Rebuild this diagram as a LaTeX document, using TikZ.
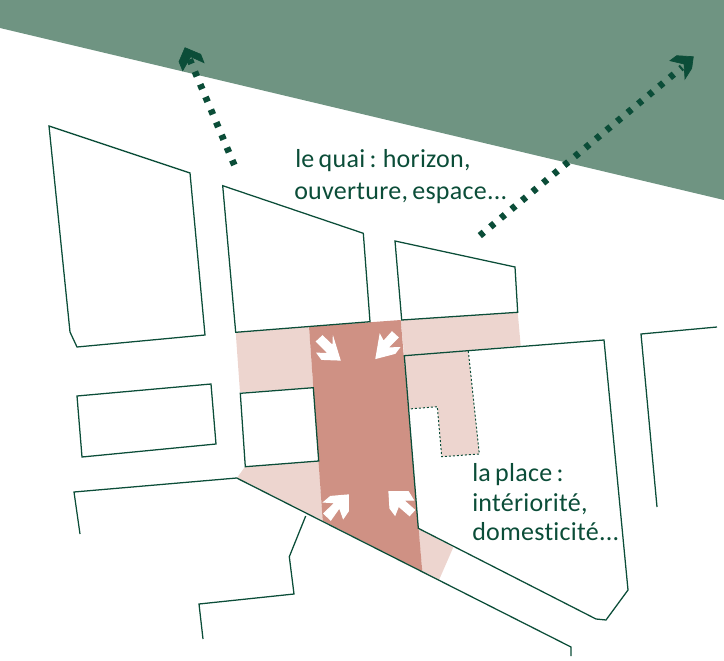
\documentclass[tikz,border=0pt]{standalone}
\usepackage{fontspec}
\setmainfont[LetterSpace=1,WordSpace=0.7,Ligatures=NoCommon]{Carlito}
\usetikzlibrary{positioning}
\definecolor{quaigreen}{HTML}{6F9482}
\definecolor{darkgreen}{HTML}{0B4D38}
\definecolor{placered}{HTML}{CF9184}
\definecolor{placepink}{HTML}{EDD5CF}
\tikzset{
  wall/.style={draw=darkgreen,line width=0.95pt,line join=miter},
  limit/.style={draw=darkgreen,line width=0.75pt,dash pattern=on 1.5pt off 1.5pt},
  view/.style={draw=darkgreen,line width=5pt,dash pattern=on 3.9pt off 6.4pt},
  head/.style={fill=darkgreen,draw=darkgreen,line width=0.5pt},
  inward/.style={fill=white,draw=white,line width=0.9pt},
  label/.style={font=\fontsize{19.5}{22}\selectfont,text=darkgreen,anchor=base west,inner sep=0pt},
}
\begin{document}
\begin{tikzpicture}[x=0.75pt,y=-0.75pt]
\useasboundingbox (0,0) rectangle (724,660);
\fill[quaigreen] (0,0) -- (724,0) -- (724,200) -- (0,28) -- cycle;

\fill[placepink] (235.7,332.3) -- (309,326.7) -- (313.3,387.7) -- (240,392.3) -- cycle;
\fill[placepink] (400.7,320) -- (517.7,312.3) -- (520.7,345.7) -- (404.3,355.7) -- cycle;
\fill[placepink] (404.3,355.7) -- (468.3,351) -- (479.3,454) -- (441.7,456.7) -- (437.3,406.7) -- (409,409) -- cycle;
\fill[placepink] (245,466.7) -- (318.7,461) -- (322.7,520.7) -- (236.7,478.3) -- cycle;
\fill[placepink] (418.3,528.3) -- (453.3,547.3) -- (439,580) -- (422.3,571.7) -- cycle;
\fill[placered] (309,326.7) -- (400.7,320) -- (422.3,571.7) -- (322.7,520.7) -- cycle;

\draw[wall] (49,126) -- (190,173) -- (205,335) -- (77,347) -- (70,332) -- cycle;
\draw[wall] (222.7,185.7) -- (363.3,233.3) -- (370,321.7) -- (235.7,332.3) -- cycle;
\draw[wall] (395,241) -- (515,267) -- (517.7,312.3) -- (401.7,320) -- cycle;
\draw[wall] (240.3,393.3) -- (313.3,387.7) -- (318.7,461) -- (245.3,466.7) -- cycle;
\draw[wall] (77,396) -- (211,384) -- (216,444) -- (82,457) -- cycle;
\draw[wall] (404.3,355.7) -- (604,340) -- (628,590) -- (606,620) -- (596,619) -- (418.3,528.3) -- cycle;
\draw[wall] (717,327) -- (641,334) -- (657,507);
\draw[wall] (80,534) -- (74,492) -- (236.7,478) -- (571,647) -- (571,656);
\draw[wall] (305.7,516) -- (289.3,556.7) -- (294,594) -- (199,604) -- (203,639);
\draw[limit] (468.3,351) -- (479.3,454) -- (441.7,456.7) -- (437.3,406.7) -- (409,409);

\coordinate (quaiA) at (234.3,165);
\coordinate (tipA) at (189.7,59.4);
\coordinate (quaiB) at (479.8,235.6);
\coordinate (tipB) at (682,67.4);
\draw[view] (quaiA) -- (tipA);
\draw[view] (quaiB) -- (tipB);
\fill[head] (185,47.7) -- (200.7,54.3) -- (204,62.7) -- (190.7,56.7) -- (182.7,70.7) -- (179,61.7) -- cycle;
\fill[head] (693.3,56.7) -- (676.7,55.7) -- (670,60.7) -- (684,64) -- (685,79) -- (691.7,68.3) -- cycle;

\fill[inward] (316.5,341.5) -- (322.5,336) -- (333,346) -- (333.3,338.3) -- (340,360) -- (321.7,359.3) -- (317.3,353.3) -- (328.5,353.5) -- cycle;
\fill[inward] (392,332) -- (398,337.5) -- (387.5,348) -- (399.3,347.7) -- (395,353.3) -- (376,358.3) -- (380,335) -- (383.5,341.5) -- cycle;
\fill[inward] (348.3,495) -- (348.3,511) -- (343.3,518.3) -- (339.5,507.5) -- (330.7,520) -- (324,513.5) -- (335,502.7) -- (324,502) -- (330.5,496.5) -- cycle;
\fill[inward] (389,491.7) -- (390,508.3) -- (395,515) -- (398.5,506) -- (409.5,515.5) -- (414.5,510) -- (403.3,500) -- (413.3,500) -- (408.3,491.7) -- cycle;

\node[label] (quai1) at (295,167) {le quai : horizon,};
\node[label] (quai2) at (294,199) {ouverture, espace...};
\node[label] (place1) at (472,481) {la place :};
\node[label] (place2) at (472,511) {intériorité,};
\node[label] (place3) at (472,540) {domesticité...};
\end{tikzpicture}
\end{document}
